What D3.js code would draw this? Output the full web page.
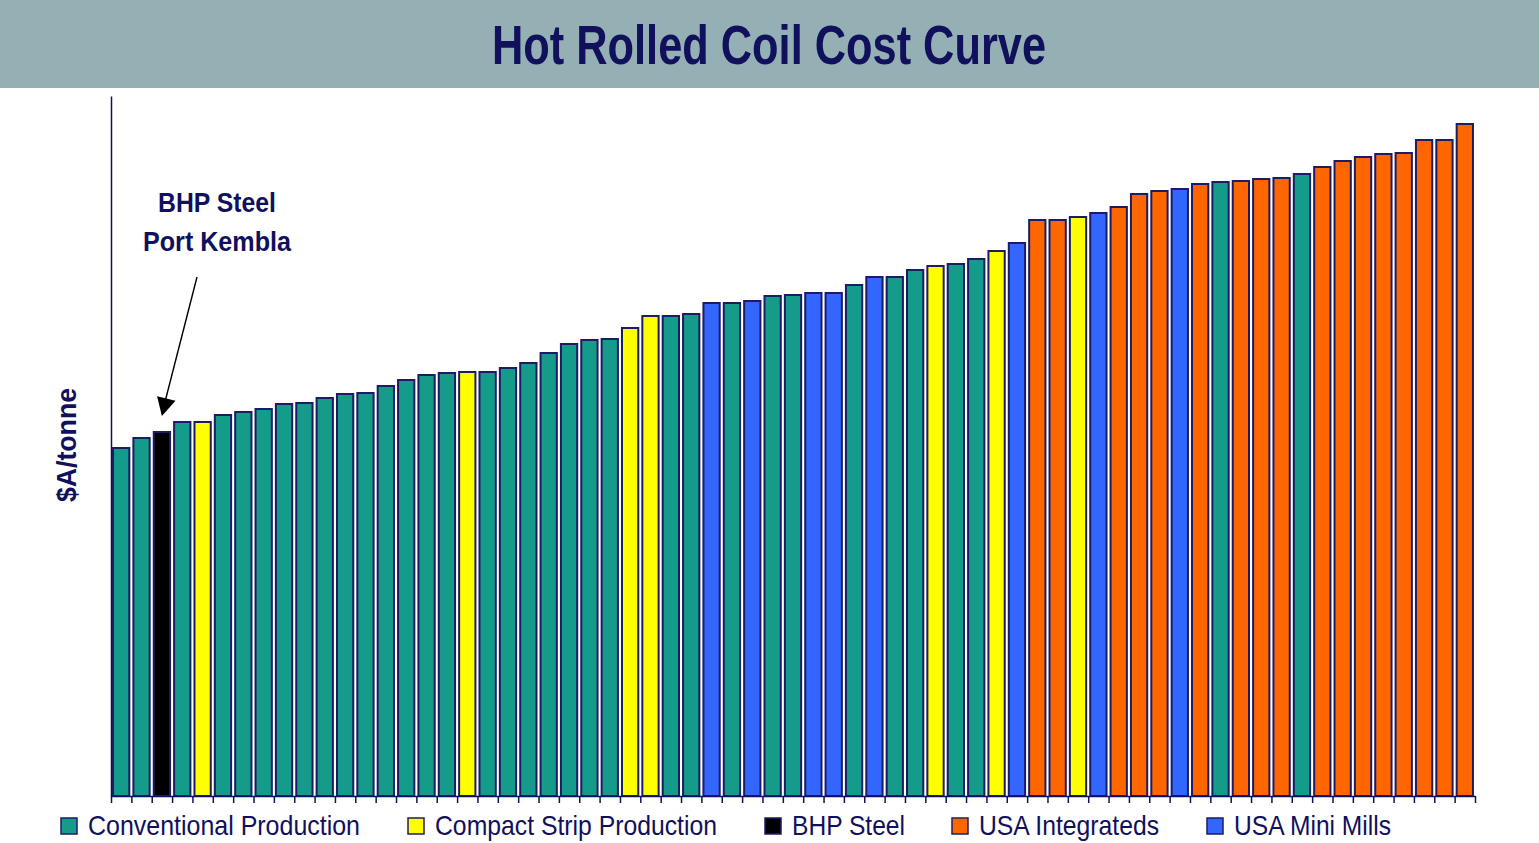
<!DOCTYPE html>
<html>
<head>
<meta charset="utf-8">
<script src="https://cdn.jsdelivr.net/npm/d3@7/dist/d3.min.js"></script>
<style>
  html, body { margin: 0; padding: 0; background: #ffffff; }
  svg { display: block; }
</style>
</head>
<body>
<svg id="chart" width="1539" height="843"></svg>
<script>
// ---- Data ----
const title = "Hot Rolled Coil Cost Curve";
const yLabel = "$A/tonne";
const annotationLines = ["BHP Steel", "Port Kembla"];

// producers ranked by cost (1 = cheapest)
const producers = d3.range(1, 68);

// approximate cost, $A/tonne (no axis values are shown in the original)
const costs = [
  348, 358, 364, 374, 374, 381, 384, 387, 392, 393,
  398, 402, 403, 410, 416, 421, 423, 424, 424, 428,
  433, 443, 452, 456, 457, 468, 480, 480, 482, 493,
  493, 495, 500, 501, 503, 503, 511, 519, 519, 526,
  530, 532, 537, 545, 553, 576, 576, 579, 583, 589,
  602, 605, 607, 612, 614, 615, 617, 618, 622, 629,
  635, 639, 642, 643, 656, 656, 672
];

// C = Conventional, S = Compact Strip, B = BHP Steel, I = USA Integrateds, M = USA Mini Mills
const types = [
  "C","C","B","C","S","C","C","C","C","C",
  "C","C","C","C","C","C","C","S","C","C",
  "C","C","C","C","C","S","S","C","C","M",
  "C","M","C","C","M","M","C","M","C","C",
  "S","C","C","S","M","I","I","S","M","I",
  "I","I","M","I","C","I","I","I","C","I",
  "I","I","I","I","I","I","I"
];

const legendKeys   = ["C", "S", "B", "I", "M"];
const legendLabels = ["Conventional Production", "Compact Strip Production", "BHP Steel", "USA Integrateds", "USA Mini Mills"];
const legendColors = ["#149b8a", "#ffff00", "#000000", "#ff6600", "#3366ff"];
const highlighted = "B";

// ---- Drawing ----
const navy = "#10105c";
const fontNarrow = "'Liberation Sans Narrow','Arial Narrow','Liberation Sans',Arial,sans-serif";
const svg = d3.select("#chart");

// title band
svg.append("rect").attr("x", 0).attr("y", 0).attr("width", 1539).attr("height", 88).attr("fill", "#94b0b5");
svg.append("text")
  .attr("x", 769).attr("y", 64)
  .attr("text-anchor", "middle")
  .attr("font-family", fontNarrow)
  .attr("font-weight", "bold").attr("font-size", 55)
  .attr("fill", navy)
  .attr("textLength", 554).attr("lengthAdjust", "spacingAndGlyphs")
  .text(title);

const x0 = 111, x1 = 1475, yBottom = 796, yTop = 96;

const x = d3.scaleBand().domain(producers).range([x0, x1]).paddingInner(0.2).paddingOuter(0.1);
const y = d3.scaleLinear().domain([0, 700]).range([yBottom, yTop]);
const color = d3.scaleOrdinal().domain(legendKeys).range(legendColors);

const data = producers.map((p, i) => ({ p, cost: costs[i], type: types[i] }));

// bars
svg.append("g").selectAll("rect").data(data).join("rect")
  .attr("x", d => x(d.p))
  .attr("y", d => y(d.cost))
  .attr("width", x.bandwidth())
  .attr("height", d => y(0) - y(d.cost))
  .attr("fill", d => color(d.type))
  .attr("stroke", "#1c1c64")
  .attr("stroke-width", 2);

// y axis (line only, no ticks)
const yAxis = d3.axisLeft(y).tickValues([]).tickSizeOuter(0);
const gy = svg.append("g").attr("transform", `translate(${x0},0)`).call(yAxis);
gy.select(".domain").attr("stroke", navy).attr("stroke-width", 1.5);

// x axis: ticks between categories
const xb = d3.scaleLinear().domain([0, producers.length]).range([x0, x1]);
const xAxis = d3.axisBottom(xb).tickValues(d3.range(0, producers.length + 1)).tickSize(7).tickSizeOuter(0).tickFormat("");
const gx = svg.append("g").attr("transform", `translate(0,${yBottom})`).call(xAxis);
gx.select(".domain").attr("stroke", navy).attr("stroke-width", 1.5);
gx.selectAll(".tick line").attr("stroke", navy).attr("stroke-width", 1.5);

// y label
svg.append("text")
  .attr("transform", `translate(76,445) rotate(-90)`)
  .attr("text-anchor", "middle")
  .attr("font-family", fontNarrow)
  .attr("font-weight", "bold").attr("font-size", 28)
  .attr("fill", navy)
  .attr("textLength", 114).attr("lengthAdjust", "spacingAndGlyphs")
  .text(yLabel);

// annotation arrow pointing at the highlighted bar
const hb = data.find(d => d.type === highlighted);
const tipX = x(hb.p) + x.bandwidth() / 2, tipY = y(hb.cost) - 16;
const sx = 197, sy = 277;
svg.append("line")
  .attr("x1", sx).attr("y1", sy).attr("x2", tipX).attr("y2", tipY - 2)
  .attr("stroke", "#000").attr("stroke-width", 1.4);
(function () {
  const dx = tipX - sx, dy = tipY - sy, len = Math.hypot(dx, dy);
  const ux = dx / len, uy = dy / len, px = -uy, py = ux;
  const L = 18, W = 9.5;
  const bx = tipX - ux * L, by = tipY - uy * L;
  svg.append("path")
    .attr("d", `M${tipX},${tipY} L${bx + px * W},${by + py * W} L${bx - px * W},${by - py * W} Z`)
    .attr("fill", "#000");
})();

const annW = [118, 148];
svg.selectAll("text.ann").data(annotationLines).join("text")
  .attr("class", "ann")
  .attr("x", 217).attr("y", (d, i) => 212 + i * 39)
  .attr("text-anchor", "middle")
  .attr("font-family", fontNarrow)
  .attr("font-weight", "bold").attr("font-size", 28)
  .attr("fill", navy)
  .attr("textLength", (d, i) => annW[i]).attr("lengthAdjust", "spacingAndGlyphs")
  .text(d => d);

// legend
const legendX = [61, 408, 765, 952, 1207];
const legendTW = [272, 282, 113, 180, 157];
const lg = svg.append("g").selectAll("g").data(legendKeys).join("g")
  .attr("transform", (d, i) => `translate(${legendX[i]},818)`);
lg.append("rect").attr("width", 16).attr("height", 16)
  .attr("fill", d => color(d)).attr("stroke", "#1c1c64").attr("stroke-width", 1.5);
lg.append("text").attr("x", 27).attr("y", 17)
  .attr("font-family", fontNarrow)
  .attr("font-size", 28).attr("fill", navy)
  .attr("textLength", (d, i) => legendTW[i]).attr("lengthAdjust", "spacingAndGlyphs")
  .text((d, i) => legendLabels[i]);
</script>
</body>
</html>
